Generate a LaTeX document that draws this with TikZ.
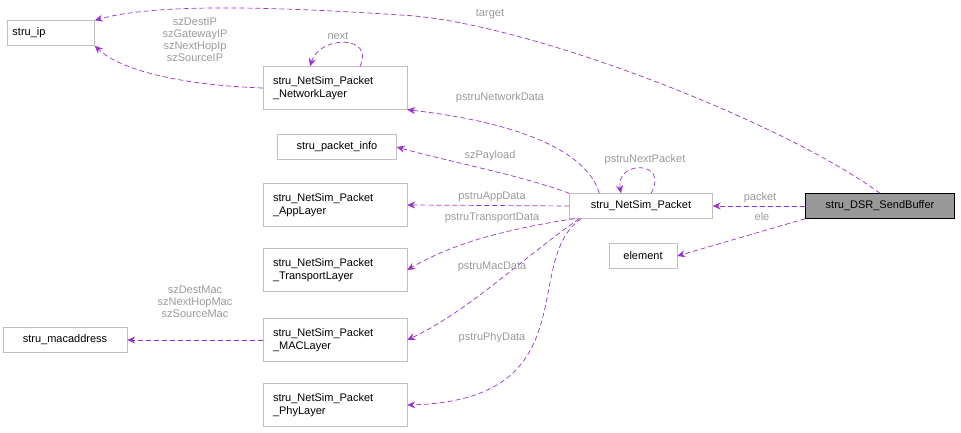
\documentclass[tikz,border=0pt]{standalone}
\usepackage{fontspec}
\setmainfont{Liberation Sans}
\usetikzlibrary{arrows.meta,positioning,calc}
\definecolor{edgecol}{HTML}{9A32CD}
\definecolor{labcol}{HTML}{9A9A9A}
\definecolor{boxcol}{HTML}{BFBFBF}

\tikzset{
  cls/.style = {draw=boxcol, fill=white, font=\fontsize{11}{13.5}\selectfont, align=left, inner sep=3pt, anchor=center},
  dep/.style = {draw=edgecol, dashed, dash pattern=on 5pt off 3pt, -{Stealth[length=8pt,width=7pt]}, line width=0.7pt},
  lab/.style = {text=labcol, font=\fontsize{11}{12}\selectfont, align=center, inner sep=1pt}
}

\begin{document}
\begin{tikzpicture}[x=1pt,y=-1pt]
  \useasboundingbox (0,0) rectangle (961,433);

  \node[cls, minimum width=87pt, minimum height=25pt, text width=77pt] (ip) at (51,33) {stru\_ip};
  \node[cls, minimum width=144pt, minimum height=43pt, text width=124pt] (net) at (335,88) {stru\_NetSim\_Packet\\\_NetworkLayer};
  \node[cls, minimum width=119pt, minimum height=25pt] (info) at (337,147) {stru\_packet\_info};
  \node[cls, minimum width=144pt, minimum height=43pt, text width=124pt] (app) at (335,205) {stru\_NetSim\_Packet\\\_AppLayer};
  \node[cls, minimum width=144pt, minimum height=43pt, text width=124pt] (trans) at (335,270) {stru\_NetSim\_Packet\\\_TransportLayer};
  \node[cls, minimum width=144pt, minimum height=43pt, text width=124pt] (mac) at (335,340) {stru\_NetSim\_Packet\\\_MACLayer};
  \node[cls, minimum width=144pt, minimum height=43pt, text width=124pt] (phy) at (335,405) {stru\_NetSim\_Packet\\\_PhyLayer};
  \node[cls, minimum width=124pt, minimum height=25pt] (macaddr) at (65,340) {stru\_macaddress};
  \node[cls, minimum width=143pt, minimum height=25pt] (pkt) at (641,206) {stru\_NetSim\_Packet};
  \node[cls, minimum width=68pt, minimum height=25pt] (elem) at (643,256) {element};
  \node[cls, draw=black, fill=gray!80, minimum width=149pt, minimum height=25pt] (buf) at (880,206) {stru\_DSR\_SendBuffer};

  % send buffer
  \draw[dep] (buf.north) .. controls (780,120) and (520,20) .. (400,15) .. controls (250,5) and (150,5) .. (ip.north east);
  \draw[dep] (buf) -- (pkt);
  \draw[dep] (buf.south west) -- (elem.east);
  \node[lab] (l1) at (490,14) {target};
  \node[lab] (l2) at (760,198) {packet};
  \node[lab] (l3) at (762,217) {ele};

  % packet members
  \draw[dep] ($(pkt.north west)+(30,0)$) .. controls (590,160) and (540,125) .. (net.south east);
  \draw[dep] ($(pkt.north west)+(0,0)$) .. controls (520,175) and (450,162) .. (info.east);
  \draw[dep] (pkt.west) -- (app.east);
  \draw[dep] ($(pkt.south west)+(5,0)$) .. controls (500,230) and (450,245) .. (trans.east);
  \draw[dep] ($(pkt.south west)+(10,0)$) .. controls (520,260) and (470,310) .. (mac.east);
  \draw[dep] ($(pkt.south west)+(12,0)$) .. controls (520,260) and (590,400) .. (phy.east);
  \draw[dep] ($(pkt.north)+(10,0)$) .. controls (670,160) and (615,160) .. ($(pkt.north)+(-20,0)$);
  \node[lab] (l4) at (500,98) {pstruNetworkData};
  \node[lab] (l5) at (490,156) {szPayload};
  \node[lab] (l6) at (645,160) {pstruNextPacket};
  \node[lab] (l7) at (492,197) {pstruAppData};
  \node[lab] (l8) at (492,218) {pstruTransportData};
  \node[lab] (l9) at (492,267) {pstruMacData};
  \node[lab] (l10) at (492,338) {pstruPhyData};

  % network layer and mac layer
  \draw[dep] (net.west) .. controls (180,85) and (120,70) .. (ip.south east);
  \draw[dep] ($(net.north)+(25,0)$) .. controls (375,35) and (320,35) .. ($(net.north)+(-25,0)$);
  \draw[dep] (mac.west) -- (macaddr.east);
  \node[lab] (l11) at (195,40) {szDestIP\\szGatewayIP\\szNextHopIp\\szSourceIP};
  \node[lab] (l12) at (338,36) {next};
  \node[lab] (l13) at (195,302) {szDestMac\\szNextHopMac\\szSourceMac};
\end{tikzpicture}
\end{document}
